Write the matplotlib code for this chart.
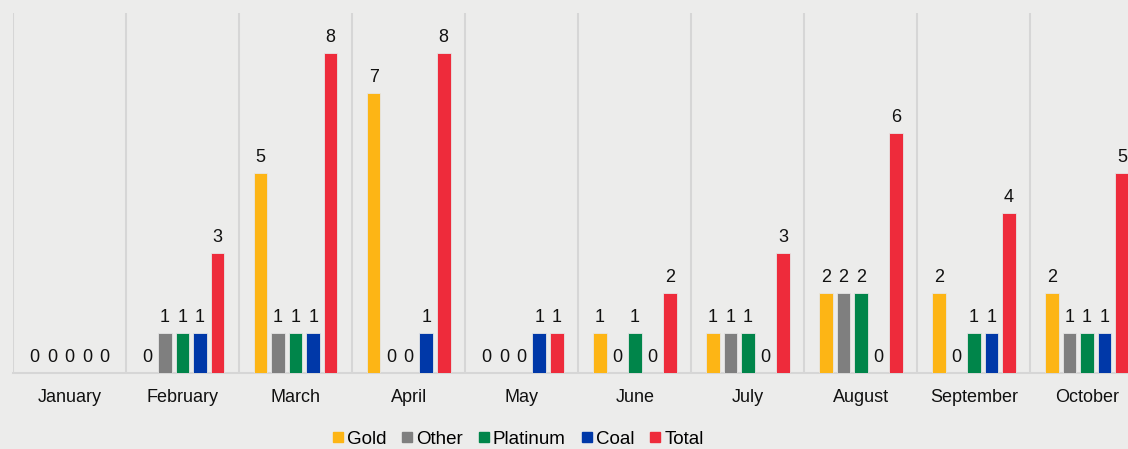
import matplotlib.pyplot as plt
import numpy as np
from matplotlib.lines import Line2D

plt.rcParams['font.family'] = ['Liberation Sans', 'DejaVu Sans']

months = ['January', 'February', 'March', 'April', 'May', 'June',
          'July', 'August', 'September', 'October']
gold = [0, 0, 5, 7, 0, 1, 1, 2, 2, 2]
other = [0, 1, 1, 0, 0, 0, 1, 2, 0, 1]
platinum = [0, 1, 1, 0, 0, 1, 1, 2, 1, 1]
coal = [0, 1, 1, 1, 1, 0, 0, 0, 1, 1]
total = [0, 3, 8, 8, 1, 2, 3, 6, 4, 5]

series = {
    'Gold': (gold, '#FDB515'),
    'Other': (other, '#7F7F7F'),
    'Platinum': (platinum, '#00854A'),
    'Coal': (coal, '#0038A8'),
    'Total': (total, '#EE2B3B'),
}

bg = '#ececeb'
fig = plt.figure(figsize=(11.28, 4.49), dpi=100, facecolor=bg)
ax = fig.add_axes([13 / 1128, 1 - 373 / 449, 1 - 13 / 1128, 360 / 449])
ax.set_facecolor(bg)

x = np.arange(len(months))
pitch = 0.155
width = 0.12
for i, (name, (vals, color)) in enumerate(series.items()):
    pos = x + (i - 2) * pitch
    bars = ax.bar(pos, vals, width, color=color, edgecolor='#e6e6e6',
                  linewidth=0.6, label=name, zorder=3)
    for b, v in zip(bars, vals):
        ax.annotate(str(v), (b.get_x() + b.get_width() / 2, v),
                    xytext=(0, 5), textcoords='offset points',
                    ha='center', va='bottom', fontsize=13, color='#111111',
                    zorder=4)

ax.set_xticks(x)
ax.set_xticklabels(months, fontsize=13, color='#111111', va='baseline')
ax.set_xticks(np.arange(-0.5, len(months)), minor=True)
ax.tick_params(axis='x', which='both', length=0, pad=21)
ax.set_yticks([])
ax.set_xlim(-0.5, (1128 - 70) / 113)
ax.set_ylim(0, 9)
ax.grid(True, axis='x', which='minor', color='#d6d6d6', linewidth=1.5, zorder=0)
for side in ['top', 'right', 'left']:
    ax.spines[side].set_visible(False)
ax.spines['bottom'].set_color('#d6d6d6')
ax.spines['bottom'].set_linewidth(1.5)

handles = [Line2D([], [], marker='s', linestyle='', markersize=7.5, color=c)
           for _, c in series.values()]
fig.legend(handles, list(series.keys()), loc='center',
           bbox_to_anchor=(518 / 1128, 1 - 439 / 449), ncol=5, frameon=False,
           fontsize=13.5, handlelength=0.55, handletextpad=0.2,
           columnspacing=0.85)

plt.savefig('out.png', dpi=100, facecolor=bg)
